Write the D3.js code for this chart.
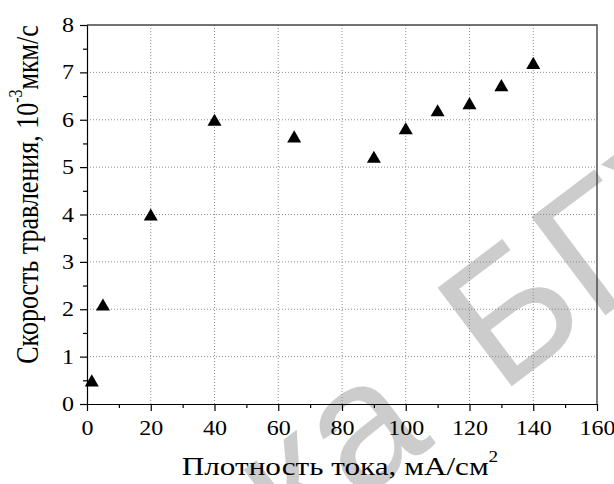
<!DOCTYPE html>
<html>
<head>
<meta charset="utf-8">
<script src="https://cdn.jsdelivr.net/npm/d3@7.9.0/dist/d3.min.js"></script>
<style>
  html, body { margin: 0; padding: 0; background: #fff; }
  svg text { font-family: "Liberation Serif", "Times New Roman", serif; fill: #000; }
  svg text.wm { font-family: "Liberation Sans", Arial, sans-serif; fill: #cccccc; }
</style>
</head>
<body>
<svg id="chart" width="614" height="484"></svg>
<script>
// current density, mA/cm^2
const density = [1.5, 5, 20, 40, 65, 90, 100, 110, 120, 130, 140];
// etch rate, 10^-3 um/s
const etchRate = [0.5, 2.1, 4.0, 6.0, 5.65, 5.22, 5.82, 6.2, 6.35, 6.73, 7.2];

const xTicks = [0, 20, 40, 60, 80, 100, 120, 140, 160];
const xMinor = [10, 30, 50, 70, 90, 110, 130, 150];
const yTicks = [0, 1, 2, 3, 4, 5, 6, 7, 8];
const yMinor = [0.5, 1.5, 2.5, 3.5, 4.5, 5.5, 6.5, 7.5];

const W = 614, H = 484;
const margin = { top: 25, right: 17, bottom: 80, left: 87 };
const innerW = W - margin.left - margin.right;
const innerH = H - margin.top - margin.bottom;
const stretch = 1.2; // the original text is a bit wider than plain Times

const svg = d3.select('#chart');
svg.append('rect').attr('width', W).attr('height', H).attr('fill', '#fff');

// page watermark, sits behind the chart
const wm = svg.append('g').attr('transform', 'translate(500,395) rotate(-37)');
wm.append('text').attr('class', 'wm').attr('font-size', 179).text('БГУИР');
wm.append('text').attr('class', 'wm').attr('font-size', 179)
  .attr('x', -80).attr('text-anchor', 'end').text('Библиотека');

const x = d3.scaleLinear().domain([0, 160]).range([0, innerW]);
const y = d3.scaleLinear().domain([0, 8]).range([innerH, 0]);

const g = svg.append('g').attr('transform', `translate(${margin.left},${margin.top})`);

// dotted grid
g.append('g').selectAll('line').data(xTicks.slice(1, -1)).join('line')
  .attr('x1', (d) => x(d)).attr('x2', (d) => x(d))
  .attr('y1', 0).attr('y2', innerH)
  .attr('stroke', '#8c8c8c').attr('stroke-dasharray', '1,2');
g.append('g').selectAll('line').data(yTicks.slice(1, -1)).join('line')
  .attr('y1', (d) => y(d)).attr('y2', (d) => y(d))
  .attr('x1', 0).attr('x2', innerW)
  .attr('stroke', '#8c8c8c').attr('stroke-dasharray', '1,2');

// top / right frame
g.append('path')
  .attr('d', `M0,0H${innerW}V${innerH}`)
  .attr('fill', 'none').attr('stroke', '#444').attr('stroke-width', 1.4);

// axes
const xAxis = g.append('g').attr('transform', `translate(0,${innerH})`)
  .call(d3.axisBottom(x).tickValues(xTicks).tickFormat(d3.format('d'))
    .tickSize(7).tickSizeOuter(0).tickPadding(10));
g.append('g').attr('transform', `translate(0,${innerH})`)
  .call(d3.axisBottom(x).tickValues(xMinor).tickFormat('').tickSize(4).tickSizeOuter(0))
  .select('.domain').remove();

const yAxis = g.append('g')
  .call(d3.axisLeft(y).tickValues(yTicks).tickFormat(d3.format('d'))
    .tickSize(7).tickSizeOuter(0));
g.append('g')
  .call(d3.axisLeft(y).tickValues(yMinor).tickFormat('').tickSize(4).tickSizeOuter(0))
  .select('.domain').remove();

g.selectAll('.domain, .tick line').attr('stroke', '#000').attr('stroke-width', 1.2);
g.selectAll('.tick text').attr('font-size', 20).attr('font-family', null)
  .attr('transform', `scale(${stretch},1)`);
yAxis.selectAll('.tick text').attr('x', -13 / stretch).attr('dy', '0.33em');

// markers
const tri = d3.symbol().type(d3.symbolTriangle).size(85);
const triShift = Math.sqrt(85 / (3 * Math.sqrt(3))) / 2;
g.append('g').selectAll('path').data(density.map((d, i) => [d, etchRate[i]])).join('path')
  .attr('d', tri)
  .attr('transform', (d) => `translate(${x(d[0])},${y(d[1]) + triShift})`)
  .attr('fill', '#000');

// axis titles
const xt = svg.append('text')
  .attr('transform', `translate(${margin.left + innerW / 2 - 2},475) scale(${stretch},1)`)
  .attr('text-anchor', 'middle').attr('font-size', 26);
xt.append('tspan').text('Плотность тока, мА/см');
xt.append('tspan').attr('font-size', 16).attr('dy', -13).text('2');

const yt = svg.append('text')
  .attr('transform', `translate(38,${margin.top + innerH / 2 - 20}) rotate(-90) scale(1,${stretch})`)
  .attr('text-anchor', 'middle').attr('font-size', 26);
yt.append('tspan').text('Скорость травления, 10');
yt.append('tspan').attr('font-size', 16).attr('dy', -13).text('-3');
yt.append('tspan').attr('dy', 13).text('мкм/с');
</script>
</body>
</html>
